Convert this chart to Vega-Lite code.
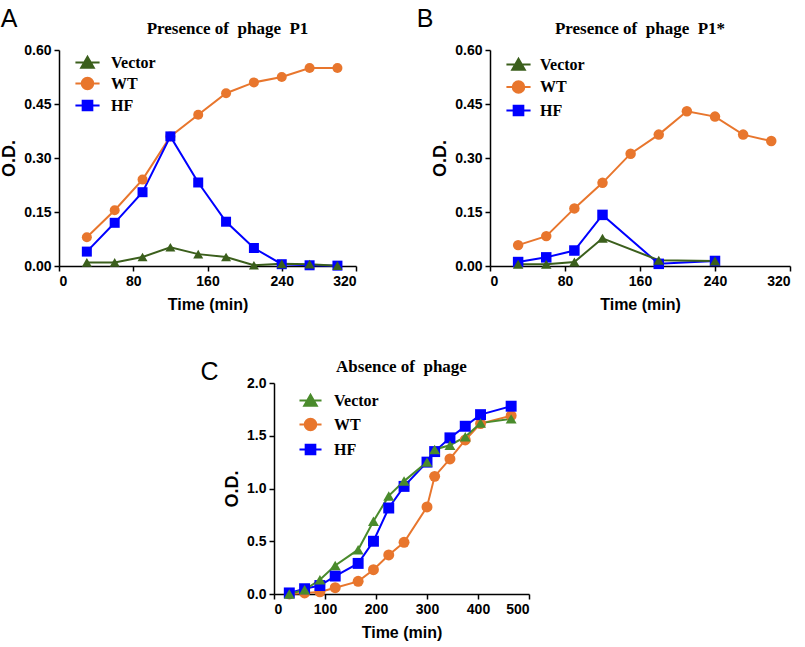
{
  "$schema": "https://vega.github.io/schema/vega-lite/v6.json",
  "padding": {"left": 0, "top": 7, "right": 2, "bottom": 2},
  "background": "white",
  "config": {
    "view": {"stroke": null},
    "axis": {
      "grid": false,
      "domainColor": "black",
      "domainWidth": 1.5,
      "tickColor": "black",
      "tickWidth": 1.5,
      "tickSize": 5,
      "labelFont": "Liberation Sans",
      "labelFontSize": 14,
      "labelFontWeight": "bold",
      "labelColor": "black",
      "titleFont": "Liberation Sans",
      "titleFontWeight": "bold",
      "titleColor": "black"
    },
    "axisX": {"titleFontSize": 16, "titlePadding": 8, "labelPadding": 3},
    "axisY": {"titleFontSize": 18, "titlePadding": 5, "labelPadding": 3},
    "title": {"font": "Liberation Serif", "fontSize": 17, "fontWeight": "bold", "color": "black"},
    "legend": {"labelFont": "Liberation Serif", "labelFontSize": 16, "labelFontWeight": "bold", "labelColor": "black"}
  },
  "datasets": {
    "A": [
      {"t": 30, "od": 0.08, "s": "WT"}, {"t": 60, "od": 0.155, "s": "WT"}, {"t": 90, "od": 0.24, "s": "WT"}, {"t": 120, "od": 0.36, "s": "WT"}, {"t": 150, "od": 0.42, "s": "WT"}, {"t": 180, "od": 0.48, "s": "WT"}, {"t": 210, "od": 0.51, "s": "WT"}, {"t": 240, "od": 0.525, "s": "WT"}, {"t": 270, "od": 0.55, "s": "WT"}, {"t": 300, "od": 0.55, "s": "WT"},
      {"t": 30, "od": 0.04, "s": "HF"}, {"t": 60, "od": 0.12, "s": "HF"}, {"t": 90, "od": 0.205, "s": "HF"}, {"t": 120, "od": 0.36, "s": "HF"}, {"t": 150, "od": 0.232, "s": "HF"}, {"t": 180, "od": 0.123, "s": "HF"}, {"t": 210, "od": 0.05, "s": "HF"}, {"t": 240, "od": 0.005, "s": "HF"}, {"t": 270, "od": 0.002, "s": "HF"}, {"t": 300, "od": 0.001, "s": "HF"},
      {"t": 30, "od": 0.01, "s": "Vector"}, {"t": 60, "od": 0.01, "s": "Vector"}, {"t": 90, "od": 0.025, "s": "Vector"}, {"t": 120, "od": 0.052, "s": "Vector"}, {"t": 150, "od": 0.033, "s": "Vector"}, {"t": 180, "od": 0.025, "s": "Vector"}, {"t": 210, "od": 0.002, "s": "Vector"}, {"t": 240, "od": 0.006, "s": "Vector"}, {"t": 270, "od": 0.005, "s": "Vector"}, {"t": 300, "od": 0.001, "s": "Vector"}
    ],
    "B": [
      {"t": 30, "od": 0.058, "s": "WT"}, {"t": 60, "od": 0.083, "s": "WT"}, {"t": 90, "od": 0.16, "s": "WT"}, {"t": 120, "od": 0.231, "s": "WT"}, {"t": 150, "od": 0.312, "s": "WT"}, {"t": 180, "od": 0.365, "s": "WT"}, {"t": 210, "od": 0.43, "s": "WT"}, {"t": 240, "od": 0.415, "s": "WT"}, {"t": 270, "od": 0.365, "s": "WT"}, {"t": 300, "od": 0.347, "s": "WT"},
      {"t": 30, "od": 0.011, "s": "HF"}, {"t": 60, "od": 0.024, "s": "HF"}, {"t": 90, "od": 0.043, "s": "HF"}, {"t": 120, "od": 0.142, "s": "HF"}, {"t": 180, "od": 0.006, "s": "HF"}, {"t": 240, "od": 0.014, "s": "HF"},
      {"t": 30, "od": 0.005, "s": "Vector"}, {"t": 60, "od": 0.005, "s": "Vector"}, {"t": 90, "od": 0.011, "s": "Vector"}, {"t": 120, "od": 0.077, "s": "Vector"}, {"t": 180, "od": 0.016, "s": "Vector"}, {"t": 240, "od": 0.014, "s": "Vector"}
    ],
    "C": [
      {"t": 30, "od": 0.0, "s": "WT"}, {"t": 60, "od": 0.01, "s": "WT"}, {"t": 90, "od": 0.02, "s": "WT"}, {"t": 120, "od": 0.06, "s": "WT"}, {"t": 165, "od": 0.12, "s": "WT"}, {"t": 195, "od": 0.23, "s": "WT"}, {"t": 225, "od": 0.37, "s": "WT"}, {"t": 255, "od": 0.49, "s": "WT"}, {"t": 300, "od": 0.825, "s": "WT"}, {"t": 315, "od": 1.115, "s": "WT"}, {"t": 345, "od": 1.28, "s": "WT"}, {"t": 375, "od": 1.46, "s": "WT"}, {"t": 405, "od": 1.615, "s": "WT"}, {"t": 465, "od": 1.69, "s": "WT"},
      {"t": 30, "od": 0.01, "s": "HF"}, {"t": 60, "od": 0.05, "s": "HF"}, {"t": 90, "od": 0.08, "s": "HF"}, {"t": 120, "od": 0.17, "s": "HF"}, {"t": 165, "od": 0.29, "s": "HF"}, {"t": 195, "od": 0.5, "s": "HF"}, {"t": 225, "od": 0.815, "s": "HF"}, {"t": 255, "od": 1.02, "s": "HF"}, {"t": 300, "od": 1.25, "s": "HF"}, {"t": 315, "od": 1.35, "s": "HF"}, {"t": 345, "od": 1.48, "s": "HF"}, {"t": 375, "od": 1.59, "s": "HF"}, {"t": 405, "od": 1.7, "s": "HF"}, {"t": 465, "od": 1.78, "s": "HF"},
      {"t": 30, "od": 0.0, "s": "Vector"}, {"t": 60, "od": 0.04, "s": "Vector"}, {"t": 90, "od": 0.135, "s": "Vector"}, {"t": 120, "od": 0.27, "s": "Vector"}, {"t": 165, "od": 0.42, "s": "Vector"}, {"t": 195, "od": 0.69, "s": "Vector"}, {"t": 225, "od": 0.93, "s": "Vector"}, {"t": 255, "od": 1.07, "s": "Vector"}, {"t": 300, "od": 1.25, "s": "Vector"}, {"t": 315, "od": 1.37, "s": "Vector"}, {"t": 345, "od": 1.41, "s": "Vector"}, {"t": 375, "od": 1.49, "s": "Vector"}, {"t": 405, "od": 1.62, "s": "Vector"}, {"t": 465, "od": 1.66, "s": "Vector"}
    ]
  },
  "resolve": {"scale": {"color": "independent", "shape": "independent", "fill": "independent", "stroke": "independent"}, "legend": {"color": "independent", "shape": "independent", "fill": "independent", "stroke": "independent"}},
  "spacing": 46,
  "vconcat": [
    {
      "resolve": {"scale": {"color": "independent", "shape": "independent", "fill": "independent", "stroke": "independent"}, "legend": {"color": "independent", "shape": "independent", "fill": "independent", "stroke": "independent"}},
      "spacing": 59,
      "hconcat": [
        {
          "title": {"text": "A", "anchor": "start", "frame": "bounds", "font": "Liberation Sans", "fontSize": 25, "fontWeight": "normal", "offset": -12},
          "vconcat": [
            {
              "width": 297, "height": 216,
              "title": {"text": "Presence of\u00a0 phage\u00a0 P1", "offset": 5, "dx": 20},
              "data": {"name": "A"},
              "resolve": {"scale": {"shape": "independent", "fill": "independent", "stroke": "independent"}},
              "encoding": {
                "x": {"field": "t", "type": "quantitative", "scale": {"domain": [0, 320], "nice": false}, "axis": {"values": [0, 80, 160, 240, 320], "title": "Time (min)"}},
                "y": {"field": "od", "type": "quantitative", "scale": {"domain": [0, 0.6], "nice": false}, "axis": {"values": [0, 0.15, 0.3, 0.45, 0.6], "format": ".2f", "title": "O.D."}}
              },
              "layer": [
                {"mark": {"type": "line", "strokeWidth": 2},
                 "encoding": {"color": {"field": "s", "type": "nominal", "legend": null, "scale": {"domain": ["Vector", "WT", "HF"], "range": ["#3b5f1c", "#e8762d", "#0000ff"]}}}},
                {"mark": {"type": "point", "filled": true, "opacity": 1, "size": 100},
                 "encoding": {"color": {"field": "s", "type": "nominal", "legend": null, "scale": {"domain": ["Vector", "WT", "HF"], "range": ["#3b5f1c", "#e8762d", "#0000ff"]}},
                   "shape": {"field": "s", "type": "nominal", "legend": null, "scale": {"domain": ["Vector", "WT", "HF"], "range": ["triangle-up", "circle", "square"]}}}},
                {"transform": [{"filter": "datum.t < 0"}],
                 "mark": {"type": "point", "filled": true, "opacity": 1, "strokeWidth": 2},
                 "encoding": {
                   "fill": {"field": "s", "type": "nominal", "scale": {"domain": ["Vector", "WT", "HF"], "range": ["#3b5f1c", "#e8762d", "#0000ff"]},
                     "legend": {"orient": "none", "legendX": 17, "legendY": 1, "title": null, "symbolSize": 441, "rowPadding": -1, "labelOffset": 12, "symbolStrokeWidth": 2}},
                   "stroke": {"field": "s", "type": "nominal", "scale": {"domain": ["Vector", "WT", "HF"], "range": ["#3b5f1c", "#e8762d", "#0000ff"]},
                     "legend": {"orient": "none", "legendX": 17, "legendY": 1, "title": null, "symbolSize": 441, "rowPadding": -1, "labelOffset": 12, "symbolStrokeWidth": 2}},
                   "shape": {"field": "s", "type": "nominal", "scale": {"domain": ["Vector", "WT", "HF"], "range": ["M-1.15,0H1.15M-0.6,0.5L0,-0.55L0.6,0.5Z", "M-1.15,0H1.15M-0.55,0A0.55,0.55,0,1,1,0.55,0A0.55,0.55,0,1,1,-0.55,0Z", "M-1.15,0H1.15M-0.46,-0.46H0.46V0.46H-0.46Z"]},
                     "legend": {"orient": "none", "legendX": 17, "legendY": 1, "title": null, "symbolSize": 441, "rowPadding": -1, "labelOffset": 12, "symbolStrokeWidth": 2}}
                 }}
              ]
            }
          ]
        },
        {
          "title": {"text": "B", "anchor": "start", "frame": "bounds", "font": "Liberation Sans", "fontSize": 25, "fontWeight": "normal", "offset": -12, "dx": -15},
          "vconcat": [
            {
              "width": 300, "height": 216,
              "title": {"text": "Presence of\u00a0 phage\u00a0 P1*", "offset": 5},
              "data": {"name": "B"},
              "resolve": {"scale": {"shape": "independent", "fill": "independent", "stroke": "independent"}},
              "encoding": {
                "x": {"field": "t", "type": "quantitative", "scale": {"domain": [0, 320], "nice": false}, "axis": {"values": [0, 80, 160, 240, 320], "title": "Time (min)"}},
                "y": {"field": "od", "type": "quantitative", "scale": {"domain": [0, 0.6], "nice": false}, "axis": {"values": [0, 0.15, 0.3, 0.45, 0.6], "format": ".2f", "title": "O.D."}}
              },
              "layer": [
                {"mark": {"type": "line", "strokeWidth": 2},
                 "encoding": {"color": {"field": "s", "type": "nominal", "legend": null, "scale": {"domain": ["Vector", "WT", "HF"], "range": ["#3b5f1c", "#e8762d", "#0000ff"]}}}},
                {"mark": {"type": "point", "filled": true, "opacity": 1, "size": 110},
                 "encoding": {"color": {"field": "s", "type": "nominal", "legend": null, "scale": {"domain": ["Vector", "WT", "HF"], "range": ["#3b5f1c", "#e8762d", "#0000ff"]}},
                   "shape": {"field": "s", "type": "nominal", "legend": null, "scale": {"domain": ["Vector", "WT", "HF"], "range": ["triangle-up", "circle", "square"]}}}},
                {"transform": [{"filter": "datum.t < 0"}],
                 "mark": {"type": "point", "filled": true, "opacity": 1, "strokeWidth": 2},
                 "encoding": {
                   "fill": {"field": "s", "type": "nominal", "scale": {"domain": ["Vector", "WT", "HF"], "range": ["#3b5f1c", "#e8762d", "#0000ff"]},
                     "legend": {"orient": "none", "legendX": 17, "legendY": 3, "title": null, "symbolSize": 441, "rowPadding": 1.5, "labelOffset": 10, "symbolStrokeWidth": 2}},
                   "stroke": {"field": "s", "type": "nominal", "scale": {"domain": ["Vector", "WT", "HF"], "range": ["#3b5f1c", "#e8762d", "#0000ff"]},
                     "legend": {"orient": "none", "legendX": 17, "legendY": 3, "title": null, "symbolSize": 441, "rowPadding": 1.5, "labelOffset": 10, "symbolStrokeWidth": 2}},
                   "shape": {"field": "s", "type": "nominal", "scale": {"domain": ["Vector", "WT", "HF"], "range": ["M-1.15,0H1.15M-0.6,0.5L0,-0.55L0.6,0.5Z", "M-1.15,0H1.15M-0.55,0A0.55,0.55,0,1,1,0.55,0A0.55,0.55,0,1,1,-0.55,0Z", "M-1.15,0H1.15M-0.46,-0.46H0.46V0.46H-0.46Z"]},
                     "legend": {"orient": "none", "legendX": 17, "legendY": 3, "title": null, "symbolSize": 441, "rowPadding": 1.5, "labelOffset": 10, "symbolStrokeWidth": 2}}
                 }}
              ]
            }
          ]
        }
      ]
    },
    {
      "resolve": {"scale": {"color": "independent", "shape": "independent", "fill": "independent", "stroke": "independent"}, "legend": {"color": "independent", "shape": "independent", "fill": "independent", "stroke": "independent"}},
      "spacing": 0,
      "hconcat": [
        {"width": 141, "height": 10, "data": {"values": []}, "mark": "point"},
        {
          "title": {"text": "C", "anchor": "start", "frame": "bounds", "font": "Liberation Sans", "fontSize": 25, "fontWeight": "normal", "offset": -27, "dx": -23},
          "vconcat": [
            {
              "width": 255, "height": 211,
              "title": {"text": "Absence of\u00a0 phage", "offset": 0},
              "data": {"name": "C"},
              "resolve": {"scale": {"shape": "independent", "fill": "independent", "stroke": "independent"}},
              "encoding": {
                "x": {"field": "t", "type": "quantitative", "scale": {"domain": [0, 500], "nice": false}, "axis": {"values": [0, 100, 200, 300, 400, 500], "title": "Time (min)"}},
                "y": {"field": "od", "type": "quantitative", "scale": {"domain": [0, 2], "nice": false}, "axis": {"values": [0, 0.5, 1, 1.5, 2], "format": ".1f", "title": "O.D."}}
              },
              "layer": [
                {"mark": {"type": "line", "strokeWidth": 2},
                 "encoding": {"color": {"field": "s", "type": "nominal", "legend": null, "scale": {"domain": ["Vector", "WT", "HF"], "range": ["#4a8b2c", "#e8762d", "#0000ff"]}}}},
                {"mark": {"type": "point", "filled": true, "opacity": 1, "size": 120},
                 "encoding": {"color": {"field": "s", "type": "nominal", "legend": null, "scale": {"domain": ["Vector", "WT", "HF"], "range": ["#4a8b2c", "#e8762d", "#0000ff"]}},
                   "shape": {"field": "s", "type": "nominal", "legend": null, "scale": {"domain": ["Vector", "WT", "HF"], "range": ["triangle-up", "circle", "square"]}}}},
                {"transform": [{"filter": "datum.t < 0"}],
                 "mark": {"type": "point", "filled": true, "opacity": 1, "strokeWidth": 2},
                 "encoding": {
                   "fill": {"field": "s", "type": "nominal", "scale": {"domain": ["Vector", "WT", "HF"], "range": ["#4a8b2c", "#e8762d", "#0000ff"]},
                     "legend": {"orient": "none", "legendX": 25, "legendY": 6, "title": null, "symbolSize": 441, "rowPadding": 3, "labelOffset": 12, "symbolStrokeWidth": 2}},
                   "stroke": {"field": "s", "type": "nominal", "scale": {"domain": ["Vector", "WT", "HF"], "range": ["#4a8b2c", "#e8762d", "#0000ff"]},
                     "legend": {"orient": "none", "legendX": 25, "legendY": 6, "title": null, "symbolSize": 441, "rowPadding": 3, "labelOffset": 12, "symbolStrokeWidth": 2}},
                   "shape": {"field": "s", "type": "nominal", "scale": {"domain": ["Vector", "WT", "HF"], "range": ["M-1.05,0H1.05M-0.6,0.5L0,-0.55L0.6,0.5Z", "M-1.05,0H1.05M-0.55,0A0.55,0.55,0,1,1,0.55,0A0.55,0.55,0,1,1,-0.55,0Z", "M-1.05,0H1.05M-0.46,-0.46H0.46V0.46H-0.46Z"]},
                     "legend": {"orient": "none", "legendX": 25, "legendY": 6, "title": null, "symbolSize": 441, "rowPadding": 3, "labelOffset": 12, "symbolStrokeWidth": 2}}
                 }}
              ]
            }
          ]
        }
      ]
    }
  ]
}
